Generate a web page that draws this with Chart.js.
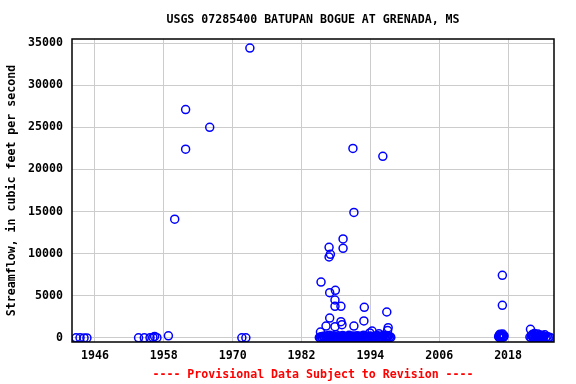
<!DOCTYPE html>
<html>
<head>
<meta charset="utf-8">
<title>USGS 07285400</title>
<script src="https://cdn.jsdelivr.net/npm/chart.js@4.4.1/dist/chart.umd.min.js"></script>
<style>
  html, body { margin: 0; padding: 0; background: #fff; }
</style>
</head>
<body>
<canvas id="flowChart" width="576" height="384"></canvas>
<script>
// tick labels
const yearTicks = [1946, 1958, 1970, 1982, 1994, 2006, 2018];
const flowTicks = [0, 5000, 10000, 15000, 20000, 25000, 30000, 35000];

// older records and the big peaks (decimal year, cfs)
const earlyDates = [1942.7, 1943.4, 1944.1, 1944.6, 1953.6, 1954.6, 1955.6, 1956.1, 1956.4, 1956.8,
  1958.8, 1959.9, 1961.8, 1961.8, 1966.0, 1971.6, 1972.3, 1973.0];
const earlyFlows = [15, 20, 10, 12, 25, 18, 40, 70, 180, 35,
  260, 14100, 22400, 27100, 25000, 20, 15, 34400];

const peakDates = [1985.4, 1986.27, 1986.8, 1987.03, 1986.8, 1986.91, 1986.91, 1987.83, 1987.83, 1987.83,
  1987.9, 1988.87, 1988.87, 1989.05, 1989.24, 1989.24, 1990.96, 1991.13, 1991.13, 1992.94,
  1992.87, 1996.17, 1996.86, 1997.1, 1985.3, 1993.9, 1994.3, 1995.5, 1997.0, 2017.0, 2017.0, 2021.9];
const peakFlows = [6640, 1420, 10760, 9930, 9610, 5380, 2370, 4510, 3760, 1340,
  5660, 3760, 1940, 1580, 11750, 10640, 22500, 14900, 1420, 3640,
  2020, 21560, 3085, 1220, 700, 600, 830, 500, 900, 7440, 3880, 1030];

// daily-ish values 1985-1997
const bandDates = [
  1985.10, 1985.24, 1985.38, 1985.52, 1985.66, 1985.80, 1985.94, 1986.08, 1986.22, 1986.36,
  1986.50, 1986.64, 1986.78, 1986.92, 1987.06, 1987.20, 1987.34, 1987.48, 1987.62, 1987.76,
  1987.90, 1988.04, 1988.18, 1988.32, 1988.46, 1988.60, 1988.74, 1988.88, 1989.02, 1989.16,
  1989.30, 1989.44, 1989.58, 1989.72, 1989.86, 1990.00, 1990.14, 1990.28, 1990.42, 1990.56,
  1990.70, 1990.84, 1990.98, 1991.12, 1991.26, 1991.40, 1991.54, 1991.68, 1991.82, 1991.96,
  1992.10, 1992.24, 1992.38, 1992.52, 1992.66, 1992.80, 1992.94, 1993.08, 1993.22, 1993.36,
  1993.50, 1993.64, 1993.78, 1993.92, 1994.06, 1994.20, 1994.34, 1994.48, 1994.62, 1994.76,
  1994.90, 1995.04, 1995.18, 1995.32, 1995.46, 1995.60, 1995.74, 1995.88, 1996.02, 1996.16,
  1996.30, 1996.44, 1996.58, 1996.72, 1996.86, 1997.00, 1997.14, 1997.28, 1997.42, 1997.56];
const bandFlows = [
  60, 30, 150, 90, 40, 220, 110, 20, 180, 70,
  260, 100, 40, 330, 130, 50, 210, 80, 30, 170,
  110, 380, 60, 40, 240, 120, 20, 160, 80, 290,
  100, 50, 210, 130, 30, 190, 70, 320, 110, 40,
  170, 90, 230, 60, 20, 150, 130, 270, 70, 40,
  200, 100, 30, 180, 120, 340, 50, 90, 220, 40,
  160, 100, 70, 250, 30, 140, 190, 60, 40, 220,
  110, 80, 300, 50, 150, 120, 30, 200, 90, 60,
  330, 130, 40, 180, 70, 100, 240, 50, 150, 70];

// recent records
const recentDates = [2016.35, 2016.45, 2016.55, 2016.6, 2016.7, 2016.75, 2016.85, 2016.9, 2017.0, 2017.05,
  2017.15, 2017.2, 2017.3, 2016.5, 2016.8, 2017.1,
  2021.8, 2022.0, 2022.1, 2022.2, 2022.3, 2022.4, 2022.5, 2022.6, 2022.7, 2022.8,
  2022.9, 2023.0, 2023.1, 2023.2, 2023.3, 2023.4, 2023.5, 2023.6, 2023.7, 2023.8,
  2023.9, 2024.0, 2024.2, 2024.4, 2024.6, 2024.8, 2025.0, 2025.2, 2025.4];
const recentFlows = [150, 320, 80, 450, 200, 60, 380, 260, 120, 470,
  180, 90, 240, 40, 300, 130,
  120, 60, 300, 180, 450, 90, 250, 520, 140, 70,
  380, 200, 110, 460, 60, 280, 150, 350, 90, 210,
  40, 300, 130, 380, 60, 180, 30, 90, 20];

const chartTitle = 'USGS 07285400 BATUPAN BOGUE AT GRENADA, MS';
const footNote = '---- Provisional Data Subject to Revision ----';
const monoFont = "'DejaVu Sans Mono', 'Liberation Mono', monospace";

function toPoints(dates, flows) {
    return dates.map((d, i) => ({ x: d, y: flows[i] }));
}

const allPoints = [
    ...toPoints(earlyDates, earlyFlows),
    ...toPoints(bandDates, bandFlows),
    ...toPoints(recentDates, recentFlows),
    ...toPoints(peakDates, peakFlows)
];

// frame round the plot area, title and footnote centred on it
const framePlugin = {
    id: 'frame',
    afterDatasetsDraw(chart) {
        const { ctx, chartArea: a } = chart;
        const cx = (a.left + a.right) / 2;
        ctx.save();
        ctx.strokeStyle = '#000';
        ctx.lineWidth = 1.5;
        ctx.strokeRect(a.left, a.top, a.right - a.left, a.bottom - a.top);

        ctx.font = `bold 11.6px ${monoFont}`;
        ctx.textAlign = 'center';
        ctx.textBaseline = 'middle';
        ctx.fillStyle = '#000';
        ctx.fillText(chartTitle, cx, 20);
        ctx.fillStyle = '#ff0000';
        ctx.fillText(footNote, cx, 375);
        ctx.restore();
    }
};

new Chart(document.getElementById('flowChart').getContext('2d'), {
    type: 'scatter',
    data: {
        datasets: [{
            label: 'Streamflow',
            data: allPoints,
            borderColor: '#0000ff',
            backgroundColor: 'rgba(0,0,0,0)',
            pointRadius: 4,
            pointBorderWidth: 1.5,
            showLine: false
        }]
    },
    options: {
        responsive: false,
        animation: false,
        layout: { padding: { left: 0, right: 22, top: 39, bottom: 0 } },
        plugins: {
            legend: { display: false },
            tooltip: { enabled: false },
            title: { display: false }
        },
        scales: {
            x: {
                type: 'linear',
                min: 1942,
                max: 2026,
                afterBuildTicks: (scale) => { scale.ticks = yearTicks.map(v => ({ value: v })); },
                afterFit: (scale) => { scale.height = 42; },
                grid: { color: '#cccccc', lineWidth: 1, drawTicks: false },
                border: { display: false },
                ticks: {
                    autoSkip: false,
                    maxRotation: 0,
                    padding: 7,
                    color: '#000',
                    font: { family: monoFont, size: 11.6, weight: 'bold' },
                    callback: v => String(v)
                }
            },
            y: {
                min: -475,
                max: 35480,
                afterBuildTicks: (scale) => { scale.ticks = flowTicks.map(v => ({ value: v })); },
                afterFit: (scale) => { scale.width = 72; },
                grid: { color: '#cccccc', lineWidth: 1, drawTicks: false },
                border: { display: false },
                ticks: {
                    autoSkip: false,
                    padding: 9,
                    color: '#000',
                    font: { family: monoFont, size: 11.6, weight: 'bold' },
                    callback: v => String(v)
                },
                title: {
                    display: true,
                    text: 'Streamflow, in cubic feet per second',
                    color: '#000',
                    font: { family: monoFont, size: 11.6, weight: 'bold' },
                    padding: { top: 5, bottom: 0 }
                }
            }
        }
    },
    plugins: [framePlugin]
});
</script>
</body>
</html>
